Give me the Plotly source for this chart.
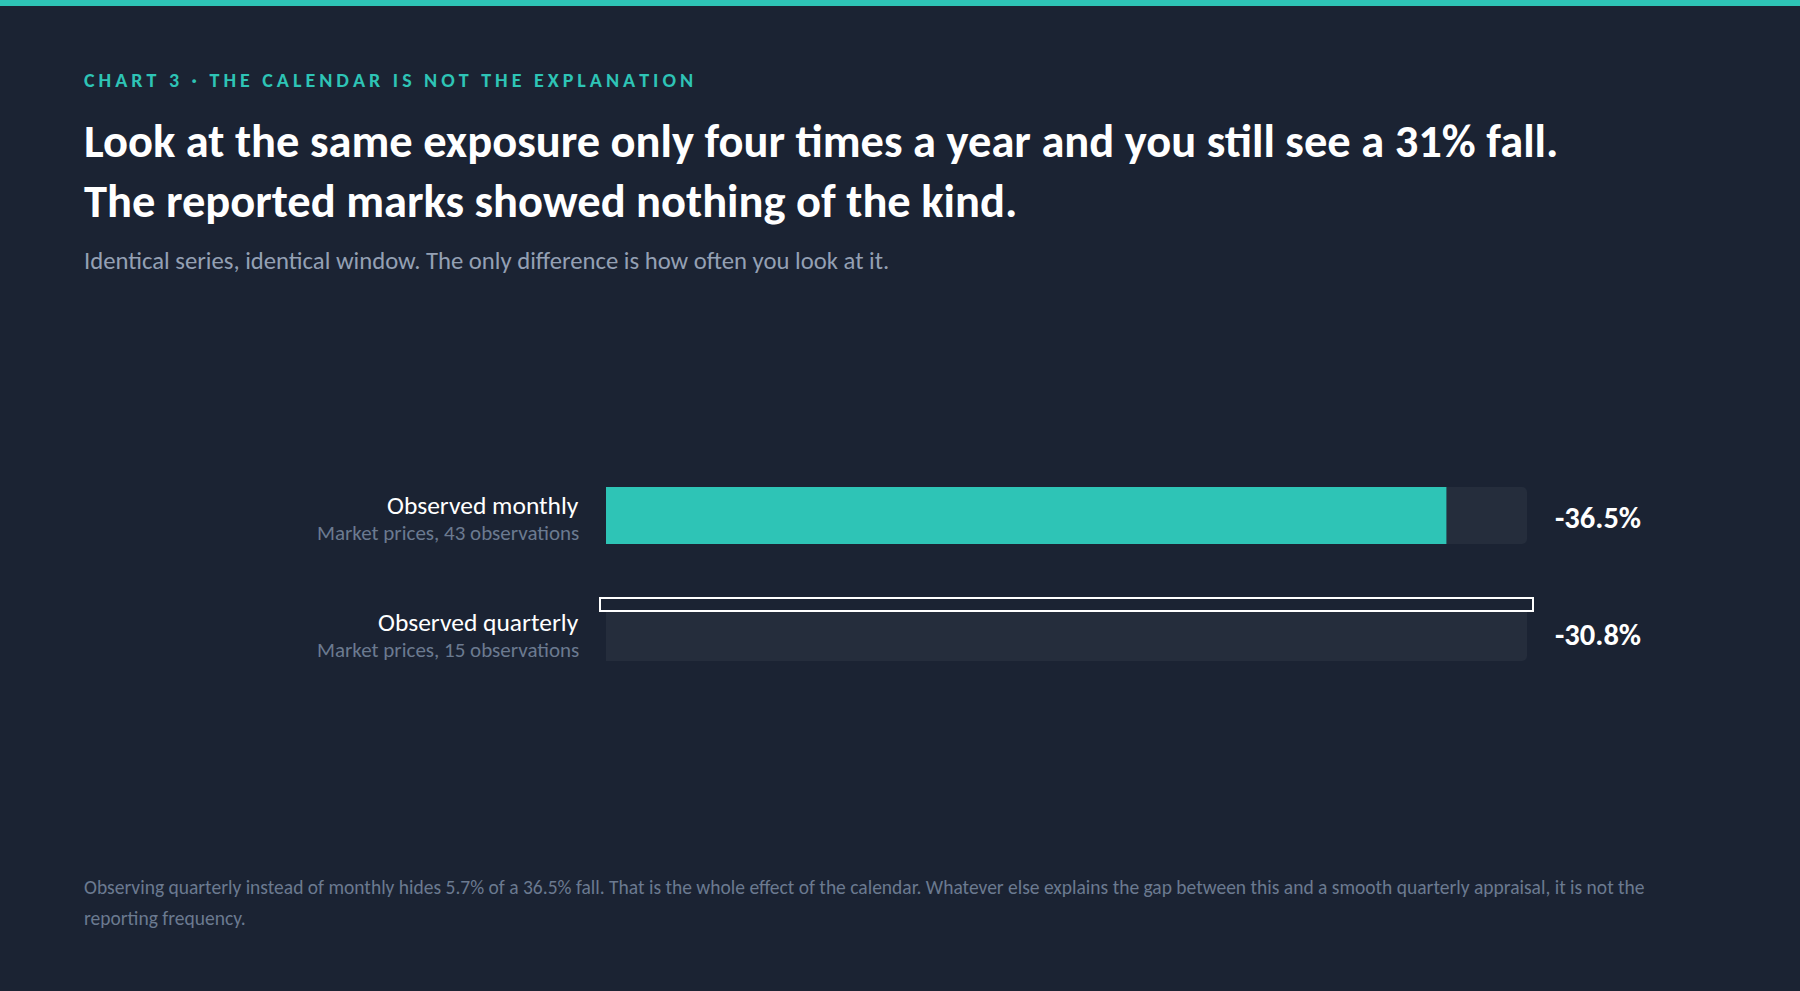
import plotly.graph_objects as go

# ---------------- data ----------------
categories = ["Observed monthly", "Observed quarterly"]
sublabels = ["Market prices, 43 observations", "Market prices, 15 observations"]
values = [-36.5, -30.8]          # peak-to-trough fall, %
scale_max = 40                   # axis maximum (magnitude)
value_labels = ["-36.5%", "-30.8%"]

kicker = "CHART 3 · THE CALENDAR IS NOT THE EXPLANATION"
title_lines = [
    "Look at the same exposure only four times a year and you still see a 31% fall.",
    "The reported marks showed nothing of the kind.",
]
subtitle = "Identical series, identical window. The only difference is how often you look at it."
footer_lines = [
    "Observing quarterly instead of monthly hides 5.7% of a 36.5% fall. That is the whole effect of the calendar. "
    "Whatever else explains the gap between this and a smooth quarterly appraisal, it is not the",
    "reporting frequency.",
]

# ---------------- style ----------------
W, H = 1800, 991
BG = "#1b2333"
TRACK = "#252d3c"
TEAL = "#2ec4b6"
WHITE = "#ffffff"
SUB = "#6b7a90"
SUBTITLE = "#94a0b4"
FONT = "Carlito, Calibri, Lato, 'Open Sans', sans-serif"
LEFT = 82

X0_PX, X1_PX = 606, 1527          # track pixel extent
ROW0_PX, ROW_STEP = 515.5, 117    # first bar centre / spacing
BAR_H = 57


def py(px):
    return 1 - px / H


mags = [abs(v) for v in values]
pos = list(range(len(categories)))

# y-range so categories land at wanted pixel rows (reversed: first on top)
y_top_val = -ROW0_PX / ROW_STEP
y_bot_val = (H - ROW0_PX) / ROW_STEP

fig = go.Figure()

# background tracks
fig.add_trace(go.Bar(
    y=pos, x=[scale_max] * len(pos), orientation="h",
    marker=dict(color=TRACK, line=dict(width=0)),
    width=BAR_H / ROW_STEP, hoverinfo="skip", showlegend=False,
))
# value bars (only monthly rendered as filled)
fig.add_trace(go.Bar(
    y=pos, x=mags, orientation="h",
    marker=dict(color=[TEAL, "rgba(0,0,0,0)"], line=dict(width=0)),
    width=BAR_H / ROW_STEP, showlegend=False,
    hovertemplate="%{customdata}<extra></extra>", customdata=value_labels,
))

fig.update_layout(
    width=W, height=H,
    margin=dict(l=0, r=0, t=0, b=0),
    paper_bgcolor=BG, plot_bgcolor=BG,
    barmode="overlay", barcornerradius=5,
    font=dict(family=FONT, color=WHITE),
    xaxis=dict(domain=[X0_PX / W, X1_PX / W], range=[0, scale_max],
               visible=False, fixedrange=True),
    yaxis=dict(domain=[0, 1], range=[y_bot_val, y_top_val],
               visible=False, fixedrange=True),
    showlegend=False,
)

shapes = [
    # top accent band
    dict(type="rect", xref="paper", yref="paper", x0=0, x1=1, y0=py(6), y1=1,
         fillcolor=TEAL, line=dict(width=0), layer="above"),
    # outlined marker above quarterly row
    dict(type="rect", xref="x domain", yref="y",
         x0=-6 / (X1_PX - X0_PX), x1=1 + 6 / (X1_PX - X0_PX),
         y0=(598 - ROW0_PX) / ROW_STEP, y1=(611 - ROW0_PX) / ROW_STEP,
         fillcolor=BG, line=dict(color=WHITE, width=2), layer="above"),
]
fig.update_layout(shapes=shapes)

ann = []
thin = "\u2009"
kick = thin.join(list(kicker))
ann.append(dict(text=f"<b>{kick}</b>", x=LEFT / W, y=py(80), xref="paper", yref="paper",
                xanchor="left", yanchor="middle", showarrow=False,
                font=dict(size=20, color=TEAL, family=FONT)))
for i, (line, yy) in enumerate(zip(title_lines, [141, 201])):
    ann.append(dict(text=f"<b>{line}</b>", x=LEFT / W, y=py(yy), xref="paper", yref="paper",
                    xanchor="left", yanchor="middle", showarrow=False,
                    font=dict(size=46.5, color=WHITE, family=FONT)))
ann.append(dict(text=subtitle, x=LEFT / W, y=py(260), xref="paper", yref="paper",
                xanchor="left", yanchor="middle", showarrow=False,
                font=dict(size=24.7, color=SUBTITLE, family=FONT)))
for line, yy in zip(footer_lines, [887, 918]):
    ann.append(dict(text=line, x=LEFT / W, y=py(yy), xref="paper", yref="paper",
                    xanchor="left", yanchor="middle", showarrow=False,
                    font=dict(size=19.5, color=SUB, family=FONT)))

for p, cat, sub, lab in zip(pos, categories, sublabels, value_labels):
    ann.append(dict(text=cat, x=581 / W, xref="paper", y=p, yref="y",
                    xanchor="right", yanchor="middle", yshift=10.5, showarrow=False,
                    font=dict(size=25.5, color=WHITE, family=FONT)))
    ann.append(dict(text=sub, x=581 / W, xref="paper", y=p, yref="y",
                    xanchor="right", yanchor="middle", yshift=-17.5, showarrow=False,
                    font=dict(size=21, color=SUB, family=FONT)))
    ann.append(dict(text=f"<b>{lab}</b>", x=scale_max, xref="x", y=p, yref="y",
                    xanchor="left", yanchor="middle", xshift=26, yshift=-2, showarrow=False,
                    font=dict(size=30.5, color=WHITE, family=FONT)))

fig.update_layout(annotations=ann)
fig.write_html("out.html", config={"displayModeBar": False},
               post_script="document.body.style.margin='0';document.body.style.background='#1b2333';")
